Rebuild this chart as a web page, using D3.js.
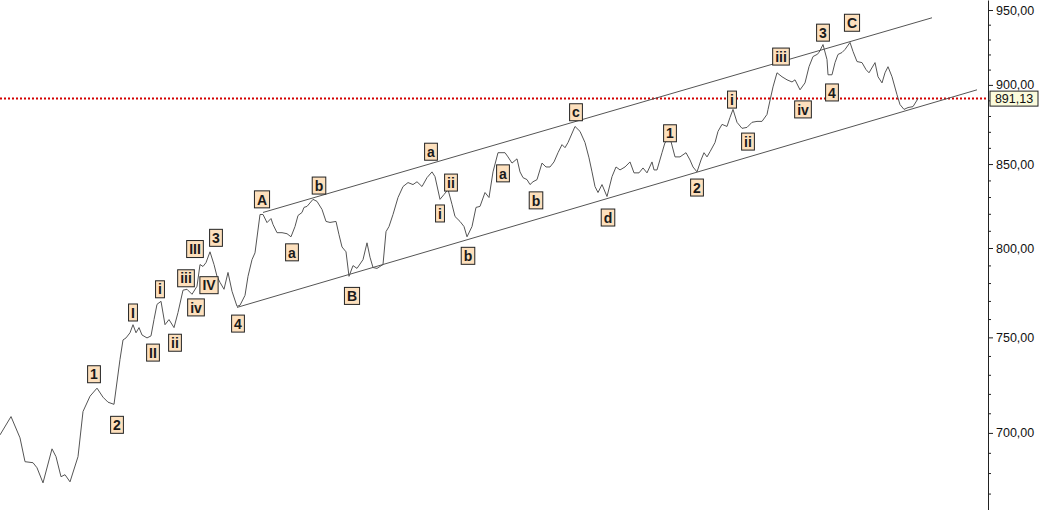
<!DOCTYPE html>
<html><head><meta charset="utf-8">
<script src="https://cdn.jsdelivr.net/npm/d3@7"></script>
<style>
html,body{margin:0;padding:0;background:#fff;}
svg{display:block;font-family:"Liberation Sans",Arial,sans-serif;}
</style></head>
<body><svg id="c" width="1043" height="510"></svg>
<script>
// price series: [session index, close]
const priceSeries = [[0,699.0],[5.5,708.3],[10,697.5],[12.5,685.6],[16.5,685.1],[18.5,682.6],[21.5,675.2],[26,692.0],[28,688.1],[30.5,678.2],[32.5,679.2],[35,675.7],[39,688.1],[41.5,710.9],[45,718.8],[48.5,723.0],[51.5,718.3],[54,715.7],[57,714.6],[60,738.2],[61.5,748.6],[63,749.7],[65,752.5],[66.5,756.9],[68,752.5],[69.5,755.3],[71,751.3],[73.5,749.7],[75.5,750.8],[77,759.7],[78.5,768.1],[80.5,769.8],[82.5,756.9],[84.5,759.7],[87,755.3],[89,763.6],[91.5,776.0],[93.5,776.5],[96,773.7],[98.5,778.2],[100,790.5],[101.5,789.4],[103,791.6],[105,797.8],[107,790.5],[108.5,783.8],[110,780.4],[112,776.5],[114,786.0],[116,775.4],[118.5,767.0],[120,767.6],[122.5,773.1],[124,783.8],[126,793.3],[127.5,797.2],[130,819.6],[131.5,819.6],[133.5,814.8],[135.5,817.2],[136.5,813.7],[138.5,808.9],[141,808.9],[143.5,808.3],[145.5,806.5],[147.5,812.5],[149,819.0],[151,820.8],[152,823.8],[153.5,824.4],[156.5,828.6],[158.5,827.4],[161,822.6],[163,815.5],[165,814.9],[168,815.5],[169.5,807.7],[171,800.6],[173,797.8],[174.5,783.8],[176.5,789.9],[178.5,788.3],[181.5,793.3],[183.5,803.0],[185,794.7],[186.5,788.8],[188.5,788.3],[191.5,790.5],[193,809.5],[194.5,812.5],[196.5,819.6],[199,829.7],[201.5,836.3],[204,838.7],[206.5,837.5],[208.5,839.2],[211,836.3],[213.5,841.7],[216,845.2],[217.5,842.3],[220,828.6],[222,831.5],[224,834.5],[226,825.6],[227.5,818.4],[230,815.5],[232,812.5],[233.5,806.5],[236,812.5],[238,823.8],[240,824.4],[242.5,832.7],[244.5,829.7],[246.5,845.2],[249,857.0],[252.5,857.0],[254,854.4],[256,850.6],[258.5,853.2],[260,845.2],[261.5,841.7],[263.5,840.5],[265,837.5],[266.5,839.2],[268.5,840.5],[271,850.6],[273,848.2],[275,848.2],[277,851.3],[279,857.0],[281,862.0],[282.5,860.1],[284,863.3],[287.5,873.4],[290,870.3],[292.5,863.3],[294.5,853.8],[296,845.2],[297.5,836.3],[299,832.7],[301,837.5],[303.5,830.3],[306,842.3],[308,848.2],[310,846.4],[312.5,848.2],[315,851.3],[317,844.6],[319.5,844.6],[321.5,847.6],[323.5,844.6],[326,851.3],[327,846.4],[328.5,846.4],[331,857.0],[332.5,863.3],[334,864.6],[335.5,863.9],[337.5,854.4],[340,854.4],[343,857.0],[345,852.5],[346.5,848.2],[348.5,845.2],[350.5,852.5],[352,857.0],[353.5,854.4],[355,857.6],[357.5,863.3],[359,870.3],[361,874.7],[363.5,873.4],[365,879.1],[366.5,884.2],[368.5,876.0],[371,872.2],[373.5,872.8],[376,876.0],[378.5,876.6],[381,876.6],[383.5,881.0],[384,884.1],[386.5,898.7],[388.5,907.9],[391,905.3],[393.5,903.3],[396,901.9],[397.5,903.3],[400,896.8],[402.5,901.3],[404.5,911.9],[406.5,918.6],[408.5,920.0],[409.5,921.3],[411.5,926.6],[413.5,916.6],[414,906.6],[416,906.6],[417.5,914.6],[419,920.0],[421,921.3],[422.5,923.3],[425,928.0],[426.5,922.0],[428.5,915.3],[431,914.6],[433,910.0],[434.5,907.9],[437.5,914.6],[439,905.3],[441,901.3],[442.5,907.9],[444,911.9],[446,905.3],[448.5,893.6],[450,887.3],[452,884.2],[454,885.4],[456.5,886.0],[459,891.13]];

// channel lines: [[t0, p0], [t1, p1]]
const upperChannel = [[131.5, 820.8], [466, 944.7]];
const lowerChannel = [[118.5, 766.4], [488.5, 896.8]];

const lastPrice = 891.13;

// Elliott wave labels: [session, price, text]
const waveLabels = [
  [47,730.3,"1"],[58.5,704.1,"2"],[66.5,763.6,"I"],[76.5,741.8,"II"],[80,776.5,"i"],
  [87.5,747.1,"ii"],[93,782.7,"iii"],[98,766.4,"iv"],[97.5,799.4,"III"],[104.5,778.8,"IV"],
  [108,805.9,"3"],[119,757.5,"4"],[131,828.6,"A"],[146,797.5,"a"],[159.5,836.9,"b"],
  [176,772.8,"B"],[215.5,857.6,"a"],[220,820.2,"i"],[225.5,838.7,"ii"],[234,795.5,"b"],
  [251.5,844.3,"a"],[268,828.0,"b"],[288,882.4,"c"],[304,817.8,"d"],[335,869.1,"1"],
  [348.5,835.7,"2"],[366,890.5,"i"],[374,863.9,"ii"],[390.5,918.6,"iii"],[401.5,884.2,"iv"],
  [411.5,934.6,"3"],[416,895.1,"4"],[426,941.3,"C"]
];

const majorTicks = [700, 750, 800, 850, 900, 950];
const minorTicks = [670,680,690,710,720,730,740,760,770,780,790,810,820,830,840,860,870,880,890,910,920,930,940];

const svg = d3.select("#c");
const axisX = 988;
const x = d3.scaleLinear().domain([0, 460]).range([0, 920]);
const y = d3.scaleLog().domain([662.1, 956.9]).range([510, 0]);
const fmt = v => d3.format(".2f")(v).replace(".", ",");

// red dotted last price line
svg.append("line")
  .attr("x1", 0).attr("x2", axisX)
  .attr("y1", y(lastPrice)).attr("y2", y(lastPrice))
  .attr("stroke", "#d40000").attr("stroke-width", 2).attr("stroke-dasharray", "2,2");

// channel lines
[upperChannel, lowerChannel].forEach(ch => {
  svg.append("line")
    .attr("x1", x(ch[0][0])).attr("y1", y(ch[0][1]))
    .attr("x2", x(ch[1][0])).attr("y2", y(ch[1][1]))
    .attr("stroke", "#555").attr("stroke-width", 1);
});

// price line
svg.append("path")
  .datum(priceSeries)
  .attr("fill", "none").attr("stroke", "#555").attr("stroke-width", 1)
  .attr("d", d3.line().x(d => x(d[0])).y(d => y(d[1])));

// wave labels
const lg = svg.append("g");
waveLabels.forEach(d => {
  const g = lg.append("g").attr("transform", `translate(${x(d[0])},${y(d[1])})`);
  const r = g.append("rect");
  const t = g.append("text").text(d[2])
    .attr("text-anchor", "middle").attr("dy", "0.37em")
    .attr("font-size", 14).attr("font-weight", "bold").attr("fill", "#1a1a1a");
  const w = t.node().getComputedTextLength() + 5;
  r.attr("x", -w / 2).attr("y", -8.5).attr("width", w).attr("height", 17)
    .attr("fill", "#fde0bd").attr("stroke", "#222").attr("stroke-width", 1);
});

// axis
const ax = svg.append("g").attr("transform", `translate(${axisX},0)`);
ax.call(d3.axisRight(y).tickValues(majorTicks).tickSize(5).tickSizeOuter(0).tickPadding(3).tickFormat(fmt));
ax.append("g").call(d3.axisRight(y).tickValues(minorTicks).tickSize(3).tickSizeOuter(0).tickFormat(""))
  .select(".domain").remove();
ax.selectAll("text").attr("font-size", 12.5).attr("fill", "#111").attr("font-family", "\"Liberation Sans\",Arial,sans-serif");
ax.selectAll("line").attr("stroke", "#222");
ax.select(".domain").attr("stroke", "#222");

// last price tag
const tag = svg.append("g").attr("transform", `translate(${axisX + 2},${y(lastPrice)})`);
tag.append("rect").attr("x", 0).attr("y", -7.5).attr("width", 48).attr("height", 15)
  .attr("fill", "#fbfbdc").attr("stroke", "#222").attr("stroke-width", 1);
tag.append("text").text(fmt(lastPrice)).attr("x", 24).attr("dy", "0.36em")
  .attr("text-anchor", "middle").attr("font-size", 12.5).attr("fill", "#111");
</script>
</body></html>
